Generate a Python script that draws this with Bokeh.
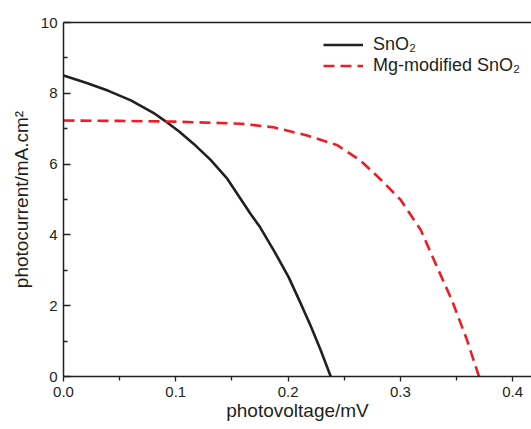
from bokeh.plotting import figure
from bokeh.models import Legend, LegendItem, LinearAxis, Range1d, FixedTicker
from bokeh.embed import file_html
from bokeh.resources import INLINE

# SnO2
v_sno2 = [0.0, 0.02, 0.04, 0.06, 0.08, 0.09, 0.103, 0.116, 0.131, 0.146, 0.1665, 0.175, 0.1875, 0.2006, 0.21, 0.22, 0.229, 0.238]
j_sno2 = [8.5, 8.3, 8.07, 7.8, 7.45, 7.23, 6.92, 6.57, 6.12, 5.58, 4.6, 4.22, 3.55, 2.8, 2.15, 1.44, 0.75, 0.0]
# Mg-modified SnO2
v_mg = [0.0, 0.05, 0.10, 0.13, 0.158, 0.187, 0.217, 0.244, 0.2645, 0.282, 0.300, 0.318, 0.334, 0.346, 0.3595, 0.37]
j_mg = [7.23, 7.22, 7.2, 7.17, 7.14, 7.04, 6.81, 6.53, 6.10, 5.58, 5.0, 4.15, 3.0, 2.15, 1.02, 0.0]

x_ticks = [0.0, 0.1, 0.2, 0.3, 0.4]
y_ticks = [0, 2, 4, 6, 8, 10]

FONT = "Liberation Sans"
INK = "#231f20"

p = figure(width=531, height=424, output_backend="svg", toolbar_location=None,
           x_range=Range1d(0, 0.4168), y_range=Range1d(0, 10),
           min_border_left=63, min_border_right=0, min_border_top=22, min_border_bottom=48)
p.outline_line_color = None
p.grid.visible = False
p.background_fill_color = "white"

r1 = p.line(v_sno2, j_sno2, line_color=INK, line_width=2.6)
r2 = p.line(v_mg, j_mg, line_color="#ee1c25", line_width=2.6, line_dash="11 6")

xa = p.xaxis[0]
xa.ticker = FixedTicker(ticks=x_ticks, minor_ticks=[0.05, 0.15, 0.25, 0.35])
xa.major_label_overrides = {t: f"{t:.1f}" for t in x_ticks}
xa.axis_label = "photovoltage/mV"
xa.major_tick_out = 5
xa.major_tick_in = 0
xa.minor_tick_out = 4
xa.minor_tick_in = 0

ya = p.yaxis[0]
ya.ticker = FixedTicker(ticks=y_ticks, minor_ticks=[1, 3, 5, 7, 9])
ya.axis_label = "photocurrent/mA.cm²"
ya.major_tick_out = 0
ya.major_tick_in = 7
ya.minor_tick_out = 0
ya.minor_tick_in = 4

for ax in (xa, ya):
    ax.axis_line_color = INK
    ax.axis_line_width = 1.5
    ax.major_tick_line_color = INK
    ax.major_tick_line_width = 1.3
    ax.minor_tick_line_color = INK
    ax.minor_tick_line_width = 1.3
    ax.major_label_text_font = FONT
    ax.major_label_text_font_size = "15px"
    ax.major_label_text_color = INK
    ax.axis_label_text_font = FONT
    ax.axis_label_text_font_size = "19px"
    ax.axis_label_text_font_style = "normal"
    ax.axis_label_text_color = INK

xa.major_label_standoff = 5
xa.axis_label_standoff = 0
ya.major_label_standoff = 6
ya.axis_label_standoff = 6

top = LinearAxis(ticker=FixedTicker(ticks=[]), major_label_text_font_size="0px",
                 axis_line_color=INK, axis_line_width=1.5,
                 major_tick_line_color=None, minor_tick_line_color=None)
p.add_layout(top, "above")

legend = Legend(items=[LegendItem(label="SnO₂", renderers=[r1]),
                       LegendItem(label="Mg-modified SnO₂", renderers=[r2])],
                location=(260, 300), padding=0, margin=0, spacing=0,
                glyph_width=40, glyph_height=21, label_height=21, label_standoff=10,
                label_text_font=FONT, label_text_font_size="18px", label_text_color=INK,
                border_line_color=None, background_fill_alpha=0)
p.add_layout(legend, "center")

open("out.html", "w").write(file_html(p, INLINE))
